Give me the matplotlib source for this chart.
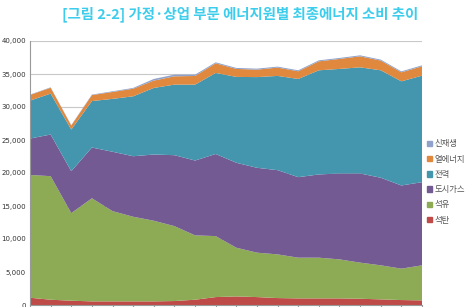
import numpy as np
import matplotlib.pyplot as plt
from matplotlib.patches import Patch

plt.rcParams['font.family'] = ['Noto Sans CJK KR', 'DejaVu Sans']

title = '[그림 2-2] 가정·상업 부문 에너지원별 최종에너지 소비 추이'
labels = ['석탄', '석유', '도시가스', '전력', '열에너지', '신재생']
colors = ['#BE4B48', '#8DAA54', '#735A92', '#4496AE', '#E0883E', '#8EA2CC']

coal = [1100, 800, 650, 550, 550, 550, 550, 600, 800, 1200,
        1300, 1200, 1050, 1000, 1000, 1000, 950, 850, 750, 700]
oil = [18600, 18720, 13270, 15620, 13670, 12820, 12220, 11350, 9750, 9240,
       7380, 6730, 6620, 6170, 6170, 5910, 5470, 5160, 4760, 5310]
gas = [5520, 6310, 6350, 7690, 9000, 9170, 10030, 10750, 11340, 12440,
       12870, 12860, 12760, 12200, 12610, 13020, 13510, 13270, 12600, 12600]
power = [5750, 6200, 6310, 7040, 8010, 9080, 10090, 10690, 11500, 12280,
         13010, 13740, 14280, 14880, 15780, 15840, 16080, 16280, 15780, 16140]
heat = [850, 890, 620, 900, 1050, 1150, 1110, 1260, 1310, 1460,
        1210, 1130, 1260, 1160, 1360, 1510, 1670, 1470, 1360, 1410]
renew = [60, 60, 60, 80, 100, 120, 250, 250, 200, 150,
         150, 150, 150, 150, 150, 150, 150, 150, 150, 150]

series = [coal, oil, gas, power, heat, renew]
x = np.arange(len(coal))

fig = plt.figure(figsize=(4.74, 3.07), dpi=100)
ax = fig.add_axes([30 / 474, 1 - 305 / 307, 392 / 474, 264 / 307])

ax.stackplot(x, *series, colors=colors, linewidth=0)

ax.set_xlim(0, len(x) - 1)
ax.set_ylim(0, 40000)
ax.set_yticks(np.arange(0, 40001, 5000))
ax.set_yticklabels(['{:,}'.format(v) for v in range(0, 40001, 5000)],
                   fontsize=5, color='#333333', family='DejaVu Sans')
ax.set_xticks(x)
ax.set_xticklabels([])
ax.tick_params(axis='y', length=0, pad=3)
ax.tick_params(axis='x', length=3, color='#999999')
ax.grid(axis='y', color='#c8c8c8', linewidth=0.8)
ax.set_axisbelow(True)
for s in ['top', 'right']:
    ax.spines[s].set_visible(False)
ax.spines['left'].set_color('#999999')
ax.spines['bottom'].set_color('#999999')

fig.text(240 / 474, 1 - 14 / 307, title, ha='center', va='center',
         fontsize=10.4, color='#3CCDEC', fontweight='bold')

handles = [Patch(color=c, label=l) for c, l in zip(colors, labels)][::-1]
fig.legend(handles=handles, loc='upper left',
           bbox_to_anchor=(424 / 474, 1 - 136 / 307),
           frameon=False, fontsize=6, handlelength=0.6, handleheight=0.6,
           handletextpad=0.3, labelspacing=0.75, borderaxespad=0,
           labelcolor='#555555')

fig.savefig('out.png', dpi=100)
